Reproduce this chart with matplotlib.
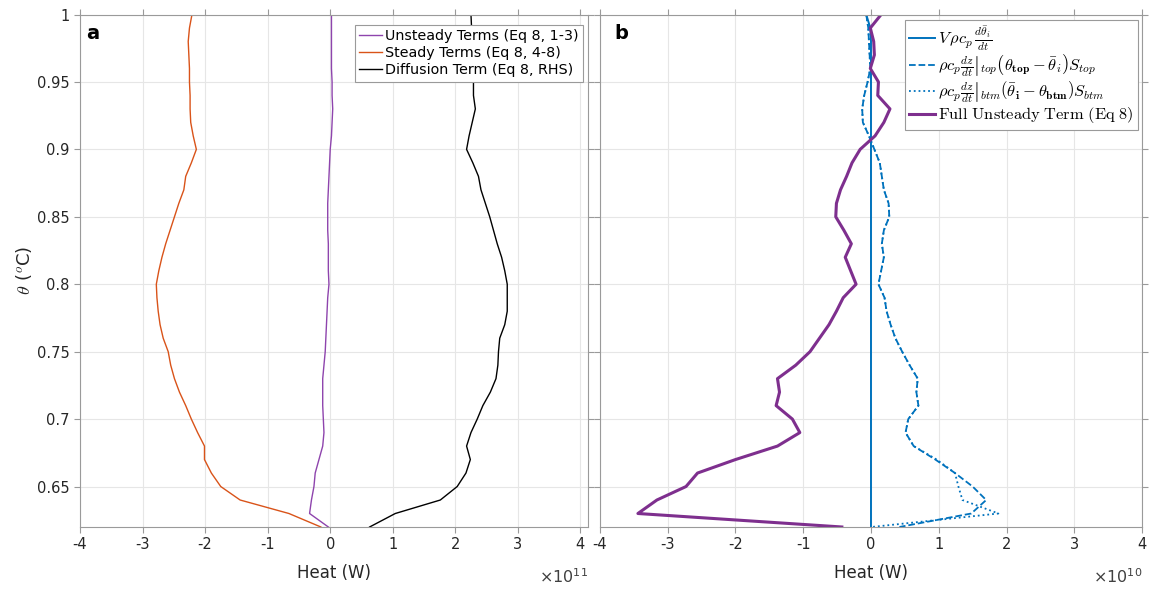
import numpy as np
import matplotlib
matplotlib.use("Agg")
import matplotlib.pyplot as plt
from matplotlib.ticker import FormatStrFormatter

plt.rcParams['font.family'] = ['DejaVu Sans']
plt.rcParams['mathtext.fontset'] = 'cm'
plt.rcParams['axes.unicode_minus'] = False

# potential temperature levels (deg C)
theta = [1.00, 0.99, 0.98, 0.97, 0.96, 0.95, 0.94, 0.93, 0.92, 0.91,
         0.90, 0.89, 0.88, 0.87, 0.86, 0.85, 0.84, 0.83, 0.82, 0.81,
         0.80, 0.79, 0.78, 0.77, 0.76, 0.75, 0.74, 0.73, 0.72, 0.71,
         0.70, 0.69, 0.68, 0.67, 0.66, 0.65, 0.64, 0.63, 0.62]

# panel a, heat budget terms in units of 1e11 W
unsteady = [0.02, 0.02, 0.02, 0.02, 0.02, 0.03, 0.03, 0.04, 0.03, 0.02,
            0.00, -0.01, -0.02, -0.03, -0.04, -0.04, -0.04, -0.03, -0.03, -0.03,
            -0.02, -0.04, -0.05, -0.06, -0.07, -0.08, -0.10, -0.12, -0.12, -0.12,
            -0.11, -0.10, -0.12, -0.18, -0.24, -0.26, -0.30, -0.33, -0.03]
steady = [-2.21, -2.25, -2.27, -2.26, -2.25, -2.25, -2.24, -2.24, -2.23, -2.19,
          -2.14, -2.22, -2.31, -2.34, -2.42, -2.49, -2.56, -2.63, -2.69, -2.74,
          -2.78, -2.77, -2.75, -2.72, -2.67, -2.59, -2.55, -2.49, -2.41, -2.31,
          -2.22, -2.12, -2.01, -2.01, -1.90, -1.75, -1.44, -0.66, -0.15]
diffusion = [2.25, 2.26, 2.27, 2.28, 2.29, 2.29, 2.29, 2.32, 2.27, 2.22,
             2.18, 2.28, 2.37, 2.41, 2.48, 2.55, 2.61, 2.67, 2.74, 2.79,
             2.83, 2.83, 2.83, 2.79, 2.71, 2.69, 2.68, 2.65, 2.56, 2.44,
             2.35, 2.25, 2.18, 2.24, 2.17, 2.03, 1.76, 1.04, 0.63]

# panel b, unsteady term components in units of 1e10 W
vol_term = [-0.07, -0.01, 0.0, 0.0, 0.0, 0.0, 0.0, 0.0, 0.0, 0.0,
            0.0, 0.0, 0.0, 0.0, 0.0, 0.0, 0.0, 0.0, 0.0, 0.0,
            0.0, 0.0, 0.0, 0.0, 0.0, 0.0, 0.0, 0.0, 0.0, 0.0,
            0.0, 0.0, 0.0, 0.0, 0.0, 0.0, 0.0, 0.0, 0.0]
top_term = [-0.07, -0.04, -0.03, -0.02, -0.01, -0.05, -0.10, -0.13, -0.12, -0.03,
            0.05, 0.13, 0.16, 0.19, 0.26, 0.27, 0.19, 0.16, 0.19, 0.15,
            0.11, 0.20, 0.23, 0.29, 0.36, 0.46, 0.57, 0.69, 0.67, 0.70,
            0.55, 0.51, 0.63, 0.95, 1.24, 1.50, 1.70, 1.48, 0.42]
btm_term = [-0.07, -0.04, -0.03, -0.02, -0.01, -0.05, -0.10, -0.13, -0.12, -0.03,
            0.05, 0.13, 0.16, 0.19, 0.26, 0.27, 0.19, 0.16, 0.19, 0.15,
            0.11, 0.20, 0.23, 0.29, 0.36, 0.46, 0.57, 0.69, 0.67, 0.70,
            0.55, 0.51, 0.63, 0.97, 1.24, 1.29, 1.35, 1.88, 0.01]
full_unsteady = [0.15, -0.01, 0.04, 0.05, -0.01, 0.11, 0.10, 0.28, 0.19, 0.06,
                 -0.16, -0.28, -0.36, -0.45, -0.51, -0.52, -0.40, -0.29, -0.38, -0.30,
                 -0.22, -0.41, -0.51, -0.62, -0.76, -0.90, -1.11, -1.38, -1.35, -1.40,
                 -1.16, -1.05, -1.38, -2.00, -2.56, -2.73, -3.16, -3.44, -0.43]

xticks = [-4, -3, -2, -1, 0, 1, 2, 3, 4]
yticks = [0.65, 0.7, 0.75, 0.8, 0.85, 0.9, 0.95, 1.0]

blue = '#0072BD'
orange = '#D95319'
purple = '#7E2F8E'
edge = '#9a9a9a'
txt = '#262626'

fig = plt.figure(figsize=(11.56, 5.9), dpi=100)
ax_a = fig.add_axes([0.0692, 0.1068, 0.4394, 0.8686])
ax_b = fig.add_axes([0.519, 0.1068, 0.4689, 0.8686])


def style_axes(ax, xmax):
    ax.set_xlim(-4, xmax)
    ax.set_ylim(0.62, 1.0)
    ax.set_xticks(xticks)
    ax.set_yticks(yticks)
    ax.yaxis.set_major_formatter(FormatStrFormatter('%g'))
    ax.grid(True, color='#e6e6e6', linewidth=0.8)
    ax.set_axisbelow(True)
    ax.tick_params(direction='out', length=4, width=0.8, color=edge,
                   labelcolor=txt, labelsize=10.5, top=True, right=True)
    for s in ax.spines.values():
        s.set_color(edge)
        s.set_linewidth(0.8)
    ax.set_xlabel('Heat (W)', fontsize=12, color=txt, labelpad=8)


# panel a
style_axes(ax_a, 4.12)
ax_a.plot(unsteady, theta, color='#8E44AD', lw=1.0, label='Unsteady Terms (Eq 8, 1-3)')
ax_a.plot(steady, theta, color=orange, lw=1.0, label='Steady Terms (Eq 8, 4-8)')
ax_a.plot(diffusion, theta, color='black', lw=1.0, label='Diffusion Term (Eq 8, RHS)')
ax_a.set_ylabel(r'$\theta$ ($^o$C)', fontsize=13, color=txt, labelpad=2)
ax_a.text(0.012, 0.963, 'a', transform=ax_a.transAxes, fontsize=14,
          fontweight='bold', ha='left', va='center')
ax_a.text(1.0, -0.096, r'$\times10^{11}$', transform=ax_a.transAxes,
          fontsize=11.5, color='#404040', ha='right', va='center',
          math_fontfamily='dejavusans')
leg = ax_a.legend(loc='upper right', bbox_to_anchor=(0.99, 0.98), borderaxespad=0,
                  fontsize=10.3, fancybox=False, framealpha=1, edgecolor=edge,
                  handlelength=1.6, handletextpad=0.2, labelspacing=0.22,
                  borderpad=0.3)
leg.get_frame().set_linewidth(0.8)

# panel b
style_axes(ax_b, 4)
ax_b.tick_params(labelleft=False)
ax_b.plot(vol_term, theta, color=blue, lw=1.4,
          label=r'$V\,\rho c_p\,\frac{d\bar{\theta}_i}{dt}$')
ax_b.plot(top_term, theta, color=blue, lw=1.3, ls='--',
          label=r'$\rho c_p\left.\frac{dz}{dt}\right|_{top}\left(\theta_{\mathbf{top}}-\bar{\theta}_i\right)S_{top}$')
ax_b.plot(btm_term, theta, color=blue, lw=1.3, ls=':',
          label=r'$\rho c_p\left.\frac{dz}{dt}\right|_{btm}\left(\bar{\theta}_{\mathbf{i}}-\theta_{\mathbf{btm}}\right)S_{btm}$')
ax_b.plot(full_unsteady, theta, color=purple, lw=2.2,
          label=r'$\mathrm{Full\ Unsteady\ Term\ (Eq\ 8)}$')
ax_b.text(0.026, 0.963, 'b', transform=ax_b.transAxes, fontsize=14,
          fontweight='bold', ha='left', va='center')
ax_b.text(1.0, -0.096, r'$\times10^{10}$', transform=ax_b.transAxes,
          fontsize=11.5, color='#404040', ha='right', va='center',
          math_fontfamily='dejavusans')
leg = ax_b.legend(loc='upper right', bbox_to_anchor=(0.9926, 0.989), borderaxespad=0,
                  fontsize=11.8, fancybox=False, framealpha=1, edgecolor=edge,
                  handlelength=1.6, handletextpad=0.2, labelspacing=0.0,
                  borderpad=0.25)
leg.get_frame().set_linewidth(0.8)

fig.savefig('out.png', dpi=100)
